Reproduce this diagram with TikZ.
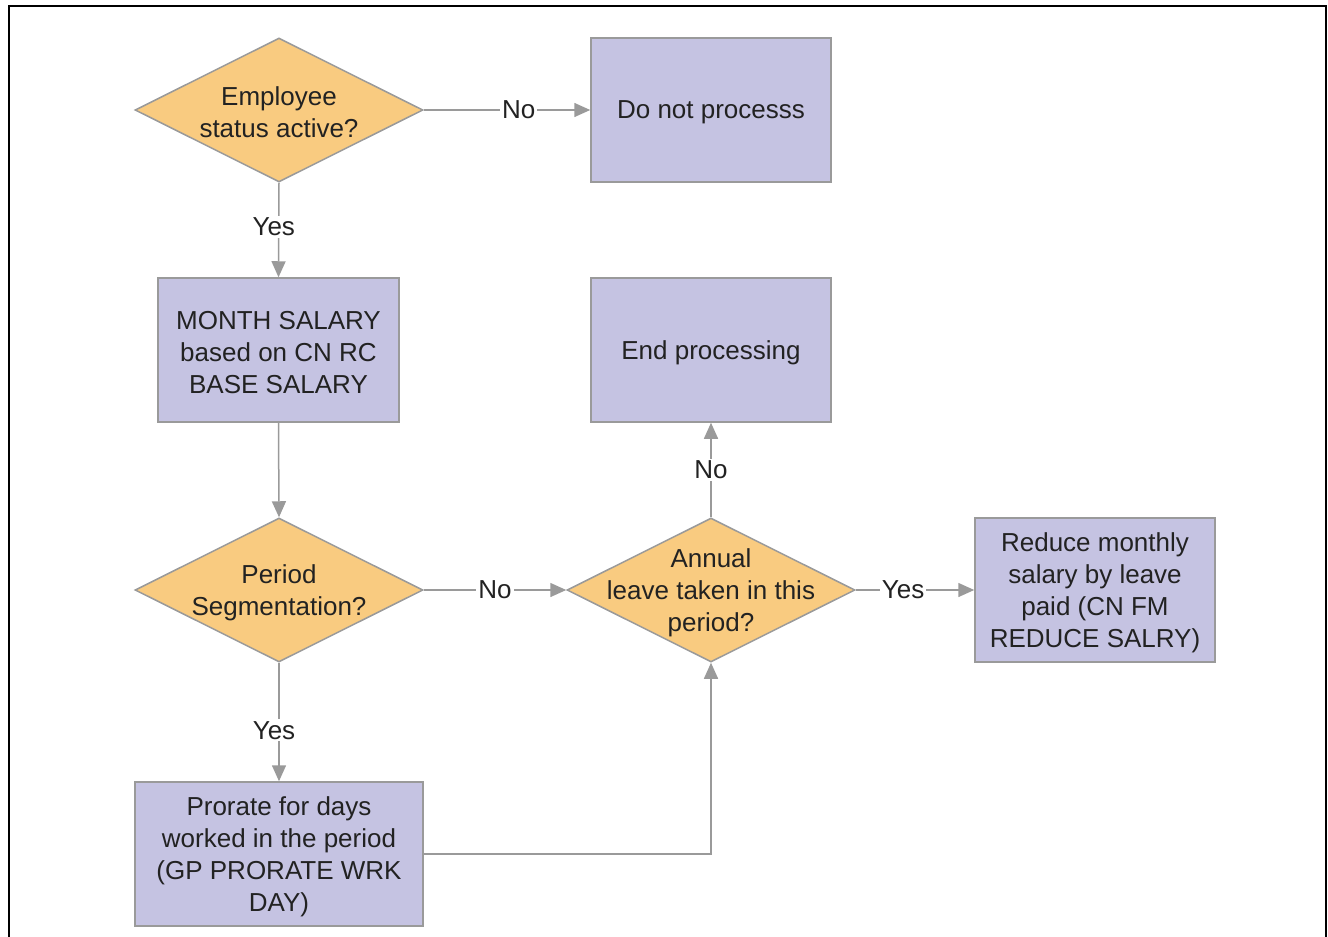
\documentclass[tikz,border=0pt]{standalone}
\usepackage{fontspec}
\setmainfont{Liberation Sans}
\usetikzlibrary{shapes.geometric,arrows.meta}
\definecolor{dfill}{HTML}{F9CB80}
\definecolor{bfill}{HTML}{C5C3E2}
\definecolor{edge}{HTML}{9A9A9A}
\definecolor{txt}{HTML}{222222}
\tikzset{
  every node/.style={font=\fontsize{26}{32}\selectfont, text=txt},
  dshape/.style={diamond, draw=edge, line width=1.5pt, fill=dfill, minimum width=288pt, minimum height=144pt, inner sep=0pt},
  bshape/.style={rectangle, draw=edge, line width=1.5pt, fill=bfill, minimum width=240pt, minimum height=144pt, inner sep=0pt},
  ttext/.style={align=center, inner sep=0pt, yshift=-2.5pt},
  conn/.style={draw=edge, line width=1.5pt, -{Triangle[length=16pt,width=14pt]}},
  lbl/.style={fill=white, inner sep=2pt}
}
\begin{document}
\begin{tikzpicture}[x=1pt,y=-1pt]
\useasboundingbox (0,0) rectangle (1328,937);
\draw[line width=2.5pt] (9,940) -- (9,6) -- (1326,6) -- (1326,940);

\node[dshape] (d1) at (279,110) {};
\node[ttext] (d1t) at (279,110) {Employee\\status active?};
\node[bshape] (b1) at (711,110) {};
\node[ttext] (b1t) at (711,110) {Do not processs};
\node[bshape, minimum width=241pt] (b2) at (278.5,350) {};
\node[ttext] (b2t) at (278.5,350) {MONTH SALARY\\based on CN RC\\BASE SALARY};
\node[bshape] (b3) at (711,350) {};
\node[ttext] (b3t) at (711,350) {End processing};
\node[dshape] (d2) at (279,590) {};
\node[ttext] (d2t) at (279,590) {Period\\Segmentation?};
\node[dshape] (d3) at (711,590) {};
\node[ttext] (d3t) at (711,590) {Annual\\leave taken in this\\period?};
\node[bshape] (b4) at (1095,590) {};
\node[ttext] (b4t) at (1095,590) {Reduce monthly\\salary by leave\\paid (CN FM\\REDUCE SALRY)};
\node[bshape, minimum width=288pt] (b5) at (279,854) {};
\node[ttext] (b5t) at (279,854) {Prorate for days\\worked in the period\\(GP PRORATE WRK\\DAY)};

\draw[conn] (d1.east) -- node[lbl, pos=0.57] {No} (b1.west);
\draw[conn] (d1.south) -- node[lbl, pos=0.47, xshift=-5pt] {Yes} (b2.north);
\draw[conn] (b2.south) -- (d2.north);
\draw[conn] (d2.east) -- node[lbl, pos=0.5] {No} (d3.west);
\draw[conn] (d3.east) -- node[lbl, pos=0.4] {Yes} (b4.west);
\draw[conn] (d3.north) -- node[lbl, pos=0.5] {No} (b3.south);
\draw[conn] (d2.south) -- node[lbl, pos=0.57, xshift=-5pt] {Yes} (b5.north);
\draw[conn] (b5.east) -| (d3.south);
\end{tikzpicture}
\end{document}
